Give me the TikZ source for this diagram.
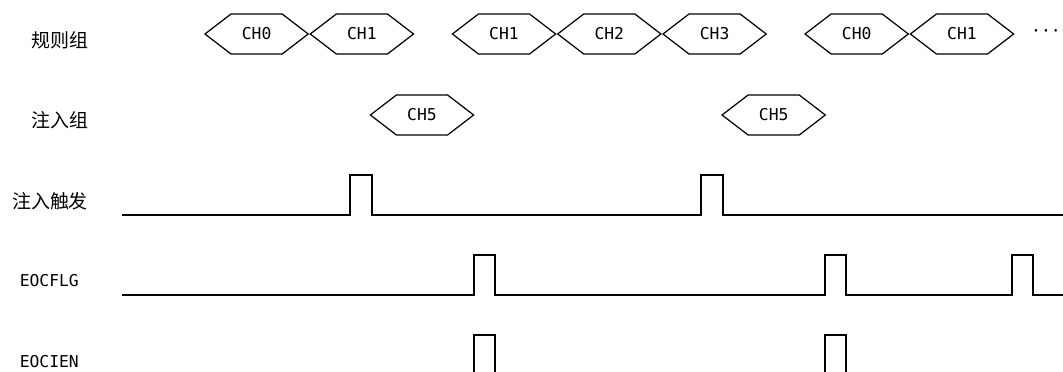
\documentclass[tikz,border=0pt]{standalone}
\usepackage{fontspec}
\setmonofont{DejaVu Sans Mono}
\newfontfamily\cjkfont{Noto Sans CJK SC}
\usetikzlibrary{shapes.symbols, positioning}
\tikzset{
  chan/.style={signal, signal to=east and west, signal pointer angle=75, draw, line width=0.7pt, minimum width=2.066cm, minimum height=0.8cm, inner sep=0pt, font=\ttfamily\fontsize{9.3}{11}\selectfont},
  lbl/.style={font=\cjkfont\fontsize{10.8}{13}\selectfont},
  lbltt/.style={font=\ttfamily\fontsize{9.3}{11}\selectfont},
  wave/.style={line width=0.7pt, line join=miter}
}
\begin{document}
\begin{tikzpicture}[x=0.02cm, y=-0.02cm]
  \useasboundingbox (0,0) rectangle (1063,372);
  % row labels
  \node (lreg) [lbl] at (60,40) {规则组};
  \node (linj) [lbl] at (60,120) {注入组};
  \node (ltrg) [lbl] at (50,201) {注入触发};
  \node (lflg) [lbltt] at (49.3,281) {EOCFLG};
  \node (lien) [lbltt] at (49.3,361.5) {EOCIEN};
  % regular group
  \node (r0) [chan] at (256.6,34) {CH0};
  \node (r1) [chan, right=0pt of r0] {CH1};
  \node (r2) [chan] at (504,34) {CH1};
  \node (r3) [chan, right=0pt of r2] {CH2};
  \node (r4) [chan, right=0pt of r3] {CH3};
  \node (r5) [chan] at (856.7,34) {CH0};
  \node (r6) [chan, right=0pt of r5] {CH1};
  \node (dots) [lbltt, inner sep=0pt] at (1046,33) {···};
  % injected group
  \node (j0) [chan] at (422,115) {CH5};
  \node (j1) [chan] at (773.7,115) {CH5};
  % injection trigger
  \draw [wave] (122,215) -- (350,215) -- (350,175) -- (372,175) -- (372,215) -- (701,215) -- (701,175) -- (723,175) -- (723,215) -- (1063,215);
  % EOCFLG
  \draw [wave] (122,295) -- (474,295) -- (474,255) -- (495,255) -- (495,295) -- (825,295) -- (825,255) -- (846,255) -- (846,295) -- (1012,295) -- (1012,255) -- (1033,255) -- (1033,295) -- (1063,295);
  % EOCIEN
  \draw [wave] (474,374) -- (474,335) -- (495,335) -- (495,374);
  \draw [wave] (825,374) -- (825,335) -- (846,335) -- (846,374);
\end{tikzpicture}
\end{document}
